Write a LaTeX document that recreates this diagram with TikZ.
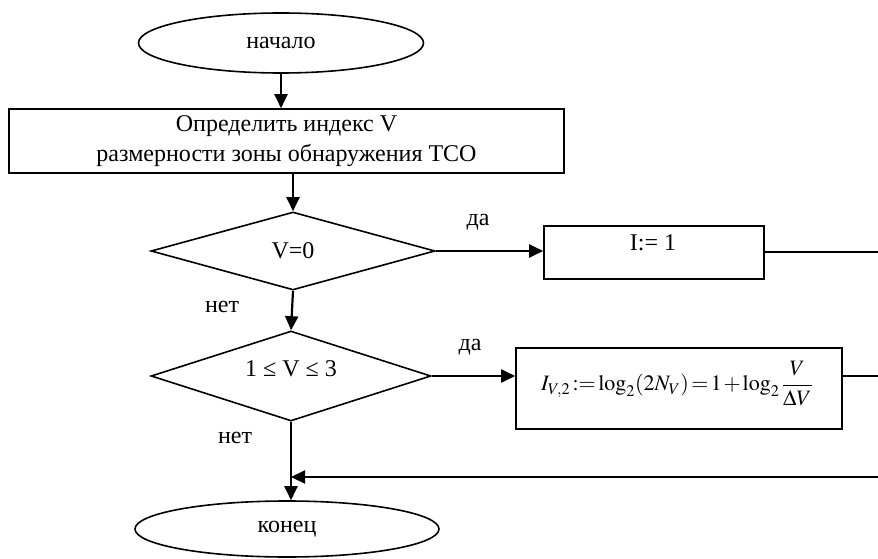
\documentclass[tikz,border=0pt]{standalone}
\usepackage{mathptmx}
\usepackage{fontspec}
\setmainfont{Liberation Serif}
\usetikzlibrary{shapes.geometric,arrows.meta}
\begin{document}
\begin{tikzpicture}[x=1pt,y=-1pt,
  every node/.style={font=\fontsize{24}{30}\selectfont},
  term/.style={draw, ellipse, line width=1.6pt, inner sep=0pt},
  proc/.style={draw, rectangle, line width=1.6pt, inner sep=0pt, align=center},
  decision/.style={draw, diamond, line width=1.6pt, inner sep=0pt},
  arr/.style={line width=2.2pt, -{Triangle[length=14pt,width=13pt]}},
  exitline/.style={line width=1.3pt},
  lbl/.style={inner sep=0pt}]
\useasboundingbox (0,0) rectangle (878,559);
\node[term, minimum width=285pt, minimum height=60pt] (start) at (281,43) {начало};
\node[proc, minimum width=555pt, minimum height=64pt] (def) at (286.5,141) {Определить индекс V\\размерности зоны обнаружения ТСО};
\node[decision, minimum width=284pt, minimum height=78pt] (d1) at (293,251) {V=0};
\node[decision, minimum width=280pt, minimum height=90pt] (d2) at (291,376) {};
\node[lbl] (d2t) at (291,369) {1 ≤ V ≤ 3};
\node[proc, minimum width=220pt, minimum height=53pt] (b1) at (654,252.5) {};
\node[lbl] (b1t) at (653,243) {I:= 1};
\node[proc, minimum width=326pt, minimum height=81pt] (b2) at (679,388.5) {};
\node[lbl, font=\fontsize{22}{26}\selectfont] (b2t) at (677,384) {\thickmuskip=2mu \medmuskip=1.5mu $I_{V,2}\mathrel{:=}\log_2(2N_V)=1+\log_2 \displaystyle\frac{V}{\Delta V}$};
\node[term, minimum width=304pt, minimum height=56pt] (stop) at (287,529) {конец};
\coordinate (o1) at (878,252);
\coordinate (o2) at (878,376);
\coordinate (ret) at (878,477);
\draw[arr] (start.south) -- (start.south |- def.north);
\draw[arr] (def.south -| d1.north) -- (d1.north);
\draw[arr] (d1.south) -- (d2.north);
\draw[arr] (d1.east) -- (d1.east -| b1.west);
\draw[arr] (d2.east) -- (d2.east -| b2.west);
\draw[exitline] (b1.east |- o1) -- (o1);
\draw[exitline] (b2.east |- o2) -- (o2);
\draw[arr] (d2.south) -- (d2.south |- stop.north);
\draw[arr] (ret) -- (ret -| d2.south);
\node[lbl] (yes1) at (478,222) {да};
\node[lbl] (yes2) at (470,347) {да};
\node[lbl] (no1) at (222,307) {нет};
\node[lbl] (no2) at (235,438) {нет};
\end{tikzpicture}
\end{document}
